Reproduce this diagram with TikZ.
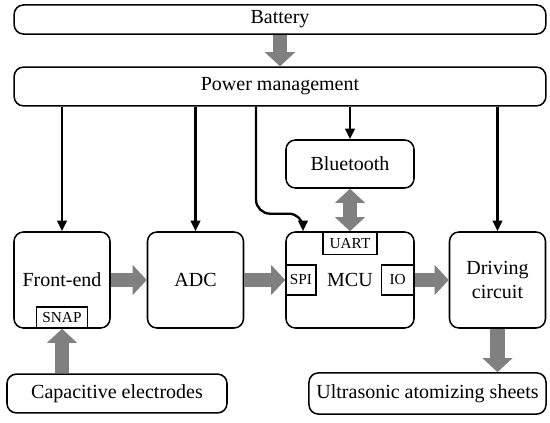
\documentclass[tikz,border=0pt]{standalone}
\usepackage{fontspec}
\setmainfont{Liberation Serif}
\usetikzlibrary{arrows.meta,positioning,calc}
\tikzset{
  bdg/.style={x=0.85pt, y=-0.85pt, font=\fontsize{17}{20}\selectfont},
  bd box/.style={draw, line width=1.3pt, rounded corners=8pt, align=center, inner sep=0pt, fill=white},
  bd wide/.style={bd box, minimum width=452pt},
  bd blk/.style={bd box, minimum width=81.6pt, minimum height=81.6pt},
  bd port/.style={draw, line width=1.1pt, fill=white, inner sep=0pt, font=\fontsize{13}{15}\selectfont},
  bd pow/.style={line width=2pt, -{Triangle[length=9pt, width=8pt]}},
  bd fat/.style={draw=black!50, line width=12.5pt, -{Triangle[length=12pt, width=25pt]}},
}

\begin{document}
\begin{tikzpicture}[bdg]
\useasboundingbox (0, 0) rectangle (550, 423);
% ---- supply ----
\node[bd wide, minimum height=24.7pt] (bat) at (280, 19.5) {Battery};
\node[bd wide, minimum height=33pt] (pm) at (280, 86.5) {Power management};
% ---- blocks ----
\node[bd box, minimum width=108.8pt, minimum height=40.8pt] (bt) at (350, 164) {Bluetooth};
\node[bd blk] (fe) at (62, 280) {Front-end};
\node[bd blk] (adc) at (195.5, 280) {ADC};
\node[bd blk, minimum width=108.8pt] (mcu) at (350, 280) {MCU};
\node[bd blk] (drv) at (497.5, 280) {Driving\\circuit};
\node[bd box, minimum width=187pt, minimum height=33pt] (cap) at (117, 393.5) {Capacitive electrodes};
\node[bd box, minimum width=201.5pt, minimum height=35pt] (uas) at (427.5, 393.5) {Ultrasonic atomizing sheets};
% ---- ports ----
\node[bd port, minimum width=43.4pt, minimum height=17.9pt, above=0pt of fe.south] (snap) {SNAP};
\node[bd port, minimum width=46pt, minimum height=19.5pt, below=0pt of mcu.north] (uart) {UART};
\node[bd port, minimum width=25.5pt, minimum height=25.5pt, right=0pt of mcu.west] (spi) {SPI};
\node[bd port, minimum width=28pt, minimum height=25.5pt, left=0pt of mcu.east] (io) {IO};
% ---- power lines ----
\draw[bd pow] (pm.south -| fe.north) -- (fe.north);
\draw[bd pow] (pm.south -| adc.north) -- (adc.north);
\draw[bd pow] (pm.south -| bt.north) -- (bt.north);
\draw[bd pow] (pm.south -| drv.north) -- (drv.north);
\coordinate (pmout) at ($(pm.south)+(-24,0)$);
\coordinate (mcuin) at ($(mcu.north)+(-47,0)$);
\draw[bd pow, rounded corners=12pt] (pmout) -- ($(pmout)+(0,107)$) -| (mcuin);
% ---- signal flow ----
\draw[bd fat] (bat) -- (pm);
\draw[bd fat] (fe) -- (adc);
\draw[bd fat] (adc) -- (spi);
\draw[bd fat] (io) -- (drv);
\draw[bd fat] (drv.south) -- (drv.south |- uas.north);
\draw[bd fat] (snap.south |- cap.north) -- (snap.south);
\draw[bd fat, {Triangle[length=12pt, width=25pt]}-{Triangle[length=12pt, width=25pt]}] (bt) -- (uart);
\end{tikzpicture}
\end{document}
